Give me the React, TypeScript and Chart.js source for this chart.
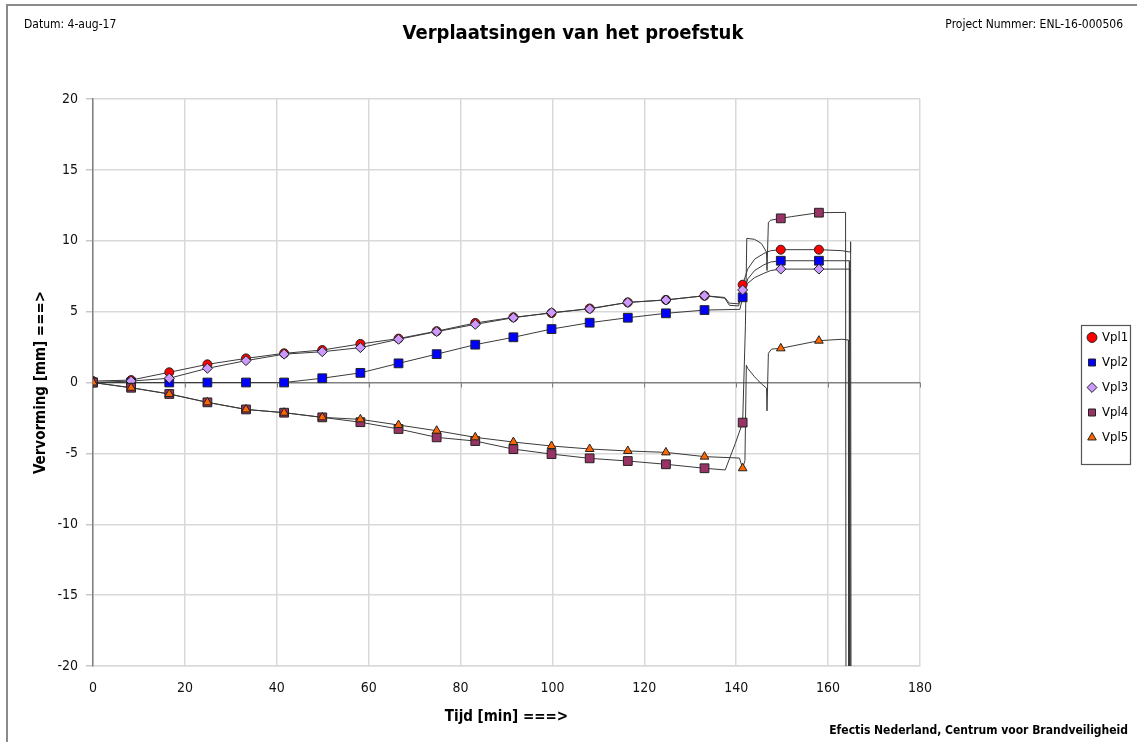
import { useEffect, useRef } from "react";
import { Chart, registerables } from "chart.js";

Chart.register(...registerables);

// Marker times (min) — one marker every ~8.3 min
const markerTimes = [0, 8.3, 16.6, 24.9, 33.3, 41.6, 49.9, 58.2, 66.5, 74.8, 83.2, 91.5, 99.8, 108.1, 116.4, 124.7, 133.1, 141.4, 149.7, 158.0];

// Marker values (mm)
const vpl1Markers = [0.1, 0.17, 0.72, 1.28, 1.7, 2.06, 2.29, 2.72, 3.1, 3.62, 4.2, 4.6, 4.9, 5.22, 5.65, 5.83, 6.12, 6.9, 9.37, 9.37];
const vpl2Markers = [0, 0, 0, 0, 0, 0, 0.3, 0.68, 1.35, 2.0, 2.67, 3.19, 3.77, 4.22, 4.57, 4.88, 5.11, 6.01, 8.59, 8.59];
const vpl3Markers = [0, 0.1, 0.3, 1.0, 1.54, 2.0, 2.17, 2.46, 3.05, 3.59, 4.1, 4.57, 4.93, 5.19, 5.65, 5.82, 6.12, 6.53, 8.0, 8.0];
const vpl4Markers = [0, -0.37, -0.81, -1.4, -1.9, -2.13, -2.46, -2.8, -3.28, -3.87, -4.13, -4.7, -5.05, -5.35, -5.54, -5.77, -6.05, -2.83, 11.58, 11.98];
const vpl5Markers = [0, -0.37, -0.81, -1.4, -1.9, -2.13, -2.46, -2.6, -3.0, -3.4, -3.87, -4.2, -4.48, -4.69, -4.83, -4.93, -5.23, -6.05, 2.41, 2.95];

// Line tails after 133 min (time, value)
const vpl1TailT = [137.5, 138.5, 140.5, 141.4, 142.5, 144, 146, 147.5, 149.7, 158.0, 163, 164.8, 164.9, 165.0];
const vpl1TailV = [6.0, 5.6, 5.55, 6.9, 8.0, 8.7, 9.1, 9.3, 9.37, 9.37, 9.3, 9.2, 9.93, -25];
const vpl2TailT = [140.8, 141.4, 142.5, 144, 146, 147.5, 149.7, 158.0, 164.6, 164.7];
const vpl2TailV = [5.16, 6.01, 7.3, 7.9, 8.3, 8.5, 8.59, 8.59, 8.59, -25];
const vpl3TailT = [137.5, 138.5, 140.5, 141.4, 142.5, 144, 146, 147.5, 149.7, 158.0, 164.7, 164.8];
const vpl3TailV = [5.95, 5.45, 5.4, 6.53, 7.0, 7.4, 7.7, 7.9, 8.0, 8.0, 8.0, -25];
const vpl4TailT = [137.6, 139.8, 141.4, 142.0, 142.3, 144, 145.5, 146.6, 146.7, 146.9, 147.0, 147.5, 149.7, 152, 158.0, 163.8, 163.9];
const vpl4TailV = [-6.17, -4.3, -2.83, 4, 10.17, 10.1, 9.8, 9.2, 7.9, 7.9, 11.3, 11.45, 11.58, 11.7, 11.98, 12.0, -25];
const vpl5TailT = [140.7, 141.4, 141.9, 142.2, 142.5, 144, 145.5, 146.6, 146.7, 147.0, 147.7, 149.7, 158.0, 163, 164.4, 164.5];
const vpl5TailV = [-5.33, -6.05, -5.5, 1.23, 1.0, 0.4, -0.1, -0.4, -2.0, 2.06, 2.36, 2.41, 2.95, 3.05, 3.0, -25];

const seriesLabels = ["Vpl1", "Vpl2", "Vpl3", "Vpl4", "Vpl5"];
const xTickStep = 20;
const yTickStep = 5;

export default function App() {
  const ref = useRef<HTMLCanvasElement>(null);

  useEffect(() => {
    document.body.style.margin = "0";
    const canvas = ref.current!;
    const font = "'DejaVu Sans Condensed', 'DejaVu Sans', sans-serif";

    const series = [
      { label: seriesLabels[0], markers: vpl1Markers, tailT: vpl1TailT, tailV: vpl1TailV, style: "circle", color: "#ff0000", r: 4.5 },
      { label: seriesLabels[1], markers: vpl2Markers, tailT: vpl2TailT, tailV: vpl2TailV, style: "rect", color: "#0000ff", r: 6.2 },
      { label: seriesLabels[2], markers: vpl3Markers, tailT: vpl3TailT, tailV: vpl3TailV, style: "rectRot", color: "#cc99ff", r: 5 },
      { label: seriesLabels[3], markers: vpl4Markers, tailT: vpl4TailT, tailV: vpl4TailV, style: "rect", color: "#993366", r: 6.2 },
      { label: seriesLabels[4], markers: vpl5Markers, tailT: vpl5TailT, tailV: vpl5TailV, style: "triangle", color: "#ff6600", r: 5 },
    ];

    const datasets: any[] = [];
    series.forEach((s, k) => {
      datasets.push({
        label: s.label,
        data: markerTimes.map((t, i) => ({ x: t, y: s.markers[i] })),
        showLine: false,
        pointStyle: s.style,
        pointRadius: s.r,
        pointBackgroundColor: s.color,
        backgroundColor: s.color,
        pointBorderColor: "#222",
        borderColor: "#222",
        pointBorderWidth: 1,
        borderWidth: 1,
        order: series.length - k, // later series drawn on top
      });
    });
    series.forEach((s) => {
      const t = markerTimes.slice(0, 17).concat(s.tailT);
      const v = s.markers.slice(0, 17).concat(s.tailV);
      datasets.push({
        label: "",
        data: t.map((x, i) => ({ x, y: v[i] })),
        showLine: true,
        pointRadius: 0,
        borderColor: "#3a3a3a",
        borderWidth: 1,
        order: 10,
      });
    });

    const decor = {
      id: "decor",
      afterLayout(chart: any) {
        const lg = chart.legend;
        if (lg) {
          lg.left = 1076.5;
          lg.right = 1136;
          lg.top = 319;
          lg.bottom = 600;
          lg.width = lg.right - lg.left;
          lg.height = lg.bottom - lg.top;
        }
      },
      afterDraw(chart: any) {
        const ctx = chart.ctx;
        const xs = chart.scales.x;
        const ys = chart.scales.y;
        ctx.save();
        // small ticks on the zero line
        ctx.strokeStyle = "#808080";
        ctx.lineWidth = 1;
        const y0 = ys.getPixelForValue(0);
        for (let v = xTickStep; v <= 180; v += xTickStep) {
          const px = Math.round(xs.getPixelForValue(v)) + 0.5;
          ctx.beginPath();
          ctx.moveTo(px, y0);
          ctx.lineTo(px, y0 + 5);
          ctx.stroke();
        }
        // outer frame
        ctx.strokeStyle = "#8a8a8a";
        ctx.lineWidth = 2;
        ctx.strokeRect(7, 5, 1300, 900);
        // legend frame
        ctx.strokeStyle = "#555";
        ctx.lineWidth = 1.2;
        ctx.strokeRect(1081.5, 325.5, 49, 139);
        // header / footer texts
        ctx.fillStyle = "#000";
        ctx.textBaseline = "middle";
        ctx.font = `12px ${font}`;
        ctx.textAlign = "left";
        ctx.fillText("Datum: 4-aug-17", 24, 25);
        ctx.textAlign = "right";
        ctx.fillText("Project Nummer: ENL-16-000506", 1123, 25);
        ctx.font = `bold 12px ${font}`;
        ctx.fillText("Efectis Nederland, Centrum voor Brandveiligheid", 1128, 731);
        ctx.textAlign = "center";
        ctx.font = `bold 20px ${font}`;
        ctx.fillText("Verplaatsingen van het proefstuk", 573, 34);
        ctx.restore();
      },
    };

    const chart = new Chart(canvas, {
      type: "scatter",
      data: { datasets },
      options: {
        animation: false,
        responsive: false,
        layout: { padding: { left: 0, top: 99, right: 217, bottom: 0 } },
        plugins: {
          tooltip: { enabled: false },
          legend: {
            position: "chartArea" as any,
            align: "start",
            labels: {
              usePointStyle: true,
              boxWidth: 7,
              boxHeight: 7,
              padding: 12,
              color: "#000",
              font: { family: font, size: 13 },
              filter: (item: any) => item.text !== "",
              sort: (a: any, b: any) => a.datasetIndex - b.datasetIndex,
            },
          },
        },
        scales: {
          x: {
            type: "linear",
            min: 0,
            max: 180,
            ticks: { stepSize: xTickStep, color: "#111", font: { family: font, size: 14 }, padding: 14, maxRotation: 0 },
            grid: { color: "#d9d9d9", lineWidth: 1.5, drawTicks: false },
            border: { color: "#d9d9d9", width: 1.5 },
            title: {
              display: true,
              text: "Tijd [min] ===>",
              color: "#000",
              font: { family: font, size: 15, weight: "bold" },
              padding: { top: 0, bottom: 16 },
            },
            afterFit: (s: any) => {
              s.height = 76;
            },
          },
          y: {
            type: "linear",
            min: -20,
            max: 20,
            ticks: { stepSize: yTickStep, color: "#111", font: { family: font, size: 14 }, padding: 8 },
            grid: {
              color: (c: any) => (c.tick && c.tick.value === 0 ? "#808080" : "#d9d9d9"),
              lineWidth: 1.5,
              tickLength: 7,
              tickColor: "#c8c8c8",
            },
            border: { color: "#808080", width: 1.5 },
            title: {
              display: true,
              text: "Vervorming [mm] ===>",
              color: "#000",
              font: { family: font, size: 15, weight: "bold" },
              padding: { top: 32, bottom: 0 },
            },
            afterFit: (s: any) => {
              s.width = 93;
            },
          },
        },
      } as any,
      plugins: [decor],
    });

    return () => chart.destroy();
  }, []);

  return <canvas ref={ref} width={1137} height={742} style={{ display: "block" }} />;
}
